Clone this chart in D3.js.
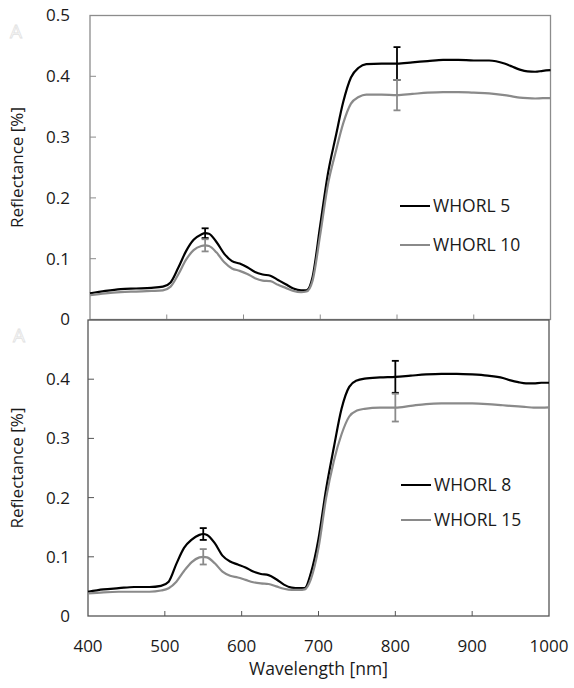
<!DOCTYPE html>
<html>
<head>
<meta charset="utf-8">
<script src="https://cdn.jsdelivr.net/npm/d3@7"></script>
<style>
  body { margin: 0; background: #fff; }
  text { font-family: "Open Sans", "Noto Sans", sans-serif; fill: #1a1a1a; }
</style>
</head>
<body>
<script>
// wavelengths (nm) shared by all spectra
const wavelengths = [400,420,440,460,480,495,505,515,525,535,545,550,555,565,575,585,595,605,615,625,635,645,655,665,675,682,690,700,710,720,730,740,750,760,780,800,820,840,860,880,900,920,940,950,960,970,980,990,1000];

const whorl5 = [0.043,0.047,0.050,0.051,0.052,0.054,0.061,0.085,0.112,0.131,0.140,0.142,0.141,0.127,0.108,0.096,0.092,0.086,0.078,0.074,0.072,0.065,0.058,0.051,0.048,0.048,0.070,0.155,0.240,0.300,0.358,0.398,0.414,0.420,0.421,0.421,0.423,0.425,0.427,0.427,0.426,0.426,0.421,0.416,0.411,0.408,0.4075,0.409,0.410];
const whorl10 = [0.040,0.043,0.045,0.046,0.047,0.048,0.054,0.074,0.098,0.114,0.121,0.122,0.121,0.110,0.094,0.084,0.080,0.075,0.068,0.064,0.063,0.057,0.052,0.047,0.045,0.046,0.064,0.140,0.222,0.275,0.323,0.355,0.366,0.370,0.370,0.369,0.371,0.373,0.374,0.374,0.373,0.372,0.369,0.367,0.365,0.364,0.3635,0.364,0.364];
const whorl8 = [0.041,0.045,0.047,0.049,0.049,0.051,0.058,0.088,0.115,0.129,0.137,0.1385,0.137,0.123,0.102,0.092,0.087,0.082,0.075,0.071,0.069,0.062,0.053,0.048,0.047,0.047,0.072,0.130,0.215,0.285,0.350,0.387,0.398,0.401,0.403,0.404,0.406,0.408,0.409,0.409,0.408,0.406,0.402,0.398,0.395,0.393,0.393,0.394,0.394];
const whorl15 = [0.038,0.040,0.041,0.041,0.041,0.043,0.047,0.058,0.076,0.091,0.099,0.100,0.099,0.089,0.075,0.068,0.065,0.061,0.057,0.055,0.054,0.050,0.046,0.044,0.044,0.045,0.062,0.115,0.200,0.262,0.307,0.337,0.347,0.350,0.352,0.352,0.355,0.358,0.359,0.359,0.359,0.358,0.356,0.355,0.354,0.353,0.352,0.352,0.3525];

// error bars (at these wavelengths)
const errWavelengths = [550, 800];
const err5 = [0.008, 0.027];
const err10 = [0.010, 0.025];
const err8 = [0.010, 0.027];
const err15 = [0.013, 0.0235];

const xTicks = [400, 500, 600, 700, 800, 900, 1000];
const yTicks = [0, 0.1, 0.2, 0.3, 0.4, 0.5];

const width = 574, height = 688;
const svg = d3.select("body").append("svg")
  .attr("width", width)
  .attr("height", height);

const BLACK = "#000000", GREY = "#8a8a8a";

function drawPanel(p) {
  const x = d3.scaleLinear().domain([400, 1000]).range([p.left, p.right]);
  const y = d3.scaleLinear().domain([0, 0.5]).range([p.bottom, p.top]);
  const g = svg.append("g");

  // plot frame
  g.append("rect")
    .attr("x", p.left).attr("y", p.top)
    .attr("width", p.right - p.left).attr("height", p.bottom - p.top)
    .attr("fill", "none").attr("stroke", p.frame).attr("stroke-width", 1.3);

  // inside ticks
  g.selectAll(".xt").data(xTicks.slice(1, -1)).join("line")
    .attr("x1", d => x(d)).attr("x2", d => x(d))
    .attr("y1", p.bottom).attr("y2", p.bottom - 5)
    .attr("stroke", p.frame).attr("stroke-width", 1);
  g.selectAll(".yt").data(yTicks.slice(1, -1)).join("line")
    .attr("x1", p.left).attr("x2", p.left + 6)
    .attr("y1", d => y(d)).attr("y2", d => y(d))
    .attr("stroke", p.frame).attr("stroke-width", 1);

  // y tick labels
  g.selectAll(".yl").data(yTicks.filter(d => d <= p.maxLabel)).join("text")
    .attr("x", 70).attr("y", d => y(d))
    .attr("dy", "0.35em")
    .attr("text-anchor", "end")
    .style("font-size", "17px")
    .text(d => d3.format("")(d));

  // y title
  g.append("text")
    .attr("transform", `translate(23,${(p.top + p.bottom) / 2}) rotate(-90)`)
    .attr("text-anchor", "middle")
    .style("font-size", "17px")
    .text("Reflectance [%]");

  // panel letter
  g.append("text")
    .attr("x", p.letterX).attr("y", p.top + 22)
    .style("font-size", "19px")
    .style("fill", "#fff").style("stroke", "#e2e2e2").style("stroke-width", 0.8)
    .text("A");

  const line = d3.line()
    .x((d, i) => x(wavelengths[i]))
    .y(d => y(d))
    .curve(d3.curveMonotoneX);

  p.series.forEach(s => {
    g.append("path")
      .datum(s.values)
      .attr("d", line)
      .attr("fill", "none")
      .attr("stroke", s.color)
      .attr("stroke-width", 2.2);
  });

  // error bars
  p.series.forEach(s => {
    errWavelengths.forEach((w, j) => {
      const v = s.values[wavelengths.indexOf(w)];
      const e = s.err[j];
      const cx = x(w);
      g.append("line")
        .attr("x1", cx).attr("x2", cx)
        .attr("y1", y(v + e)).attr("y2", y(v - e))
        .attr("stroke", s.color).attr("stroke-width", 1.8);
      [v + e, v - e].forEach(c => {
        g.append("line")
          .attr("x1", cx - 3.5).attr("x2", cx + 3.5)
          .attr("y1", y(c)).attr("y2", y(c))
          .attr("stroke", s.color).attr("stroke-width", 1.8);
      });
    });
  });

  // legend
  p.series.forEach((s, i) => {
    const ly = p.legendY[i];
    g.append("line")
      .attr("x1", p.legendX).attr("x2", p.legendX + 30)
      .attr("y1", ly).attr("y2", ly)
      .attr("stroke", s.color).attr("stroke-width", 2);
    g.append("text")
      .attr("x", p.legendX + 33).attr("y", ly)
      .attr("dy", "0.36em")
      .style("font-size", "17.5px")
      .text(s.name);
  });

  return x;
}

drawPanel({
  left: 90, right: 550.5, top: 15.5, bottom: 319.5,
  frame: "#8c8c8c", maxLabel: 0.5, letterX: 10,
  legendX: 400, legendY: [206, 245],
  series: [
    { name: "WHORL 5", values: whorl5, err: err5, color: BLACK },
    { name: "WHORL 10", values: whorl10, err: err10, color: GREY }
  ]
});

const xb = drawPanel({
  left: 88, right: 549, top: 320, bottom: 616,
  frame: "#555555", maxLabel: 0.4, letterX: 13,
  legendX: 401, legendY: [485, 520],
  series: [
    { name: "WHORL 8", values: whorl8, err: err8, color: BLACK },
    { name: "WHORL 15", values: whorl15, err: err15, color: GREY }
  ]
});

// x axis labels (bottom panel only)
svg.selectAll(".xl").data(xTicks).join("text")
  .attr("x", d => xb(d)).attr("y", 652)
  .attr("text-anchor", "middle")
  .style("font-size", "17px")
  .text(d => d);

svg.append("text")
  .attr("x", (xb.range()[0] + xb.range()[1]) / 2).attr("y", 675)
  .attr("text-anchor", "middle")
  .style("font-size", "17.5px")
  .text("Wavelength [nm]");
</script>
</body>
</html>
